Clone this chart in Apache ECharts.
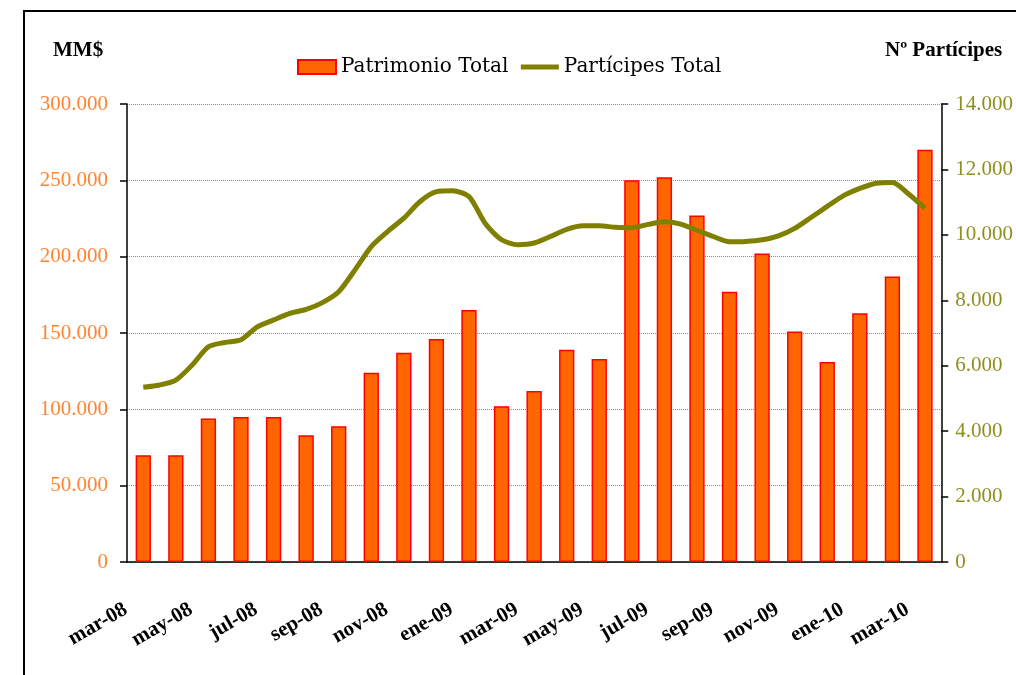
<!DOCTYPE html>
<html>
<head>
<meta charset="utf-8">
<script src="https://cdn.jsdelivr.net/npm/echarts@6/dist/echarts.min.js"></script>
<style>
  html, body {margin: 0; padding: 0; background: #fff;}
  #chart {width: 1016px; height: 675px;}
</style>
</head>
<body>
<div id="chart"></div>
<script>
// months of the bars (monthly)
const months = ['mar-08', 'abr-08', 'may-08', 'jun-08', 'jul-08', 'ago-08', 'sep-08', 'oct-08', 'nov-08', 'dic-08',
    'ene-09', 'feb-09', 'mar-09', 'abr-09', 'may-09', 'jun-09', 'jul-09', 'ago-09', 'sep-09', 'oct-09',
    'nov-09', 'dic-09', 'ene-10', 'feb-10', 'mar-10'];

// Patrimonio Total, MM$
const patrimonio = [70000, 70000, 94000, 95000, 95000, 83000, 89000, 124000, 137000, 146000,
    165000, 102000, 112000, 139000, 133000, 250000, 252000, 227000, 177000, 202000,
    151000, 131000, 163000, 187000, 270000];

// Partícipes Total, read twice a month (first = mid mar-08, last = mid mar-10)
const participes = [5340, 5410, 5560, 6020, 6580, 6710, 6790, 7190, 7400, 7600,
    7720, 7930, 8260, 8930, 9640, 10100, 10510, 11020, 11320, 11350,
    11170, 10350, 9850, 9700, 9750, 9950, 10170, 10280, 10280, 10230,
    10220, 10320, 10400, 10330, 10140, 9950, 9790, 9800, 9850, 9970,
    10200, 10530, 10870, 11200, 11420, 11580, 11600, 11250, 10810];

const serif = 'Liberation Serif';
const dots = v => String(v).replace(/\B(?=(\d{3})+(?!\d))/g, '.');

const chart = echarts.init(document.getElementById('chart'));
chart.setOption({
    animation: false,
    backgroundColor: '#fff',
    title: [
        {text: 'MM$', left: 48, top: 35, textStyle: {fontFamily: serif, fontWeight: 'bold', fontSize: 21, color: '#000'}},
        {text: 'Nº Partícipes', left: 880, top: 35, textStyle: {fontFamily: serif, fontWeight: 'bold', fontSize: 21, color: '#000'}}
    ],
    legend: {
        left: 292, top: 52,
        itemWidth: 38, itemHeight: 14, itemGap: 10,
        textStyle: {fontFamily: 'DejaVu Serif', fontSize: 20, color: '#000'},
        data: [{name: 'Patrimonio Total', icon: 'rect'}, {
            name: 'Partícipes Total',
            itemStyle: {opacity: 0},
            lineStyle: {width: 5, color: '#808000'}
        }]
    },
    graphic: [{
        type: 'rect', silent: true, z: 100,
        shape: {x: 24, y: 11, width: 1100, height: 800},
        style: {fill: 'none', stroke: '#000', lineWidth: 2}
    }],
    grid: {left: 127, right: 74, top: 104, bottom: 113},
    xAxis: [{
        type: 'category',
        data: months,
        axisLine: {lineStyle: {color: '#000', width: 1.5}},
        axisTick: {interval: 0, length: 8, lineStyle: {color: '#000', width: 1.5}},
        axisLabel: {
            interval: 1, rotate: 30, margin: 36, padding: [0, 20, 0, 0],
            fontFamily: serif, fontWeight: 'bold', fontSize: 21, color: '#000'
        }
    }, {
        type: 'value', min: -0.5, max: 24.5, show: false
    }],
    yAxis: [{
        type: 'value', min: 0, max: 300000, interval: 50000,
        axisLine: {show: true, onZero: false, lineStyle: {color: '#000', width: 1.5}},
        axisTick: {show: true, length: 7, lineStyle: {color: '#000', width: 1.5}},
        axisLabel: {fontFamily: serif, fontSize: 21, color: '#FF8533', margin: 19, formatter: dots},
        splitLine: {lineStyle: {color: '#8a8a8a', width: 1, type: [1, 1]}}
    }, {
        type: 'value', min: 0, max: 14000, interval: 2000,
        axisLine: {show: true, onZero: false, lineStyle: {color: '#000', width: 1.5}},
        axisTick: {show: true, length: 7, lineStyle: {color: '#000', width: 1.5}},
        axisLabel: {fontFamily: serif, fontSize: 21, color: '#8F8F1F', margin: 14, formatter: dots},
        splitLine: {show: false}
    }],
    series: [{
        name: 'Patrimonio Total',
        type: 'bar',
        xAxisIndex: 0, yAxisIndex: 0,
        barWidth: '47%',
        data: patrimonio,
        itemStyle: {color: '#FF6600', borderColor: '#FF0000', borderWidth: 1.5}
    }, {
        name: 'Partícipes Total',
        type: 'line',
        xAxisIndex: 1, yAxisIndex: 1,
        symbol: 'none',
        smooth: 0.25,
        z: 5,
        data: participes.map((v, i) => [i / 2, v]),
        itemStyle: {color: '#808000'},
        lineStyle: {color: '#808000', width: 5}
    }]
});
</script>
</body>
</html>
